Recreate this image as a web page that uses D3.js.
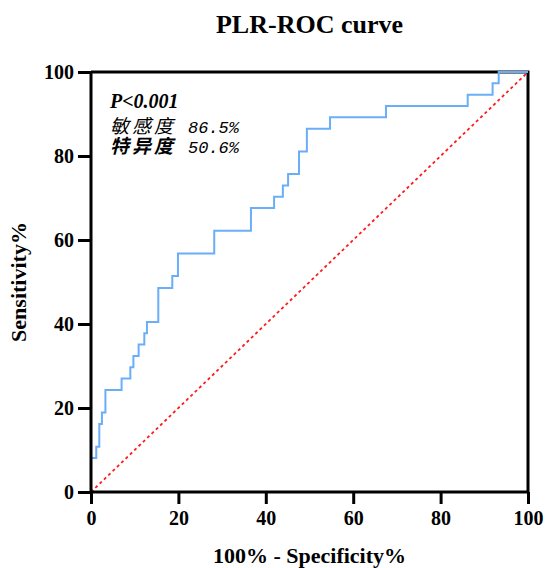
<!DOCTYPE html>
<html>
<head>
<meta charset="utf-8">
<script src="https://cdn.jsdelivr.net/npm/d3@7"></script>
<style>
  html, body { margin: 0; padding: 0; background: #fff; }
  svg { display: block; }
</style>
</head>
<body>
<div id="chart"></div>
<script>
// ---- data ----
const fprValues = [0, 0, 1.2, 1.9, 2.5, 3.3, 7.0, 9.0, 9.7, 10.9, 12.2, 12.8, 15.4, 18.6, 19.9, 28.2, 36.6, 41.9, 43.9, 45.1, 47.6, 49.4, 54.7, 67.5, 86.2, 91.9, 93.3, 100];
const tprValues = [0, 8.1, 10.8, 16.2, 18.9, 24.3, 27.0, 29.7, 32.4, 35.1, 37.8, 40.5, 48.6, 51.4, 56.8, 62.2, 67.6, 70.3, 73.0, 75.7, 81.1, 86.5, 89.2, 91.9, 94.6, 97.3, 100, 100];
const refLine = [0, 100];
const xTicks = [0, 20, 40, 60, 80, 100];
const yTicks = [0, 20, 40, 60, 80, 100];
const titleText = "PLR-ROC curve";
const xLabel = "100% - Specificity%";
const yLabel = "Sensitivity%";
const pText = "P<0.001";
const sensLabel = "敏感度";
const sensValue = "86.5%";
const specLabel = "特异度";
const specValue = "50.6%";

// ---- layout ----
const W = 547, H = 568;
const mLeft = 91, mRight = 528, mTop = 72, mBottom = 492;

const svg = d3.select("#chart").append("svg").attr("width", W).attr("height", H);

const x = d3.scaleLinear().domain([0, 100]).range([mLeft, mRight]);
const y = d3.scaleLinear().domain([0, 100]).range([mBottom, mTop]);

const serif = "'Liberation Serif', 'Times New Roman', serif";

// frame (top & right)
svg.append("path")
  .attr("d", `M${x(0)},${y(100)}H${x(100)}V${y(0)}`)
  .attr("fill", "none").attr("stroke", "#000").attr("stroke-width", 3);

// diagonal reference
svg.append("line")
  .attr("x1", x(refLine[0])).attr("y1", y(refLine[0]))
  .attr("x2", x(refLine[1])).attr("y2", y(refLine[1]))
  .attr("stroke", "#ff1a1a").attr("stroke-width", 1.8)
  .attr("stroke-dasharray", "3,3");

// ROC curve
const pts = fprValues.map((f, i) => [f, tprValues[i]]);
const line = d3.line().x(d => x(d[0])).y(d => y(d[1])).curve(d3.curveStepAfter);
svg.append("path")
  .datum(pts)
  .attr("d", line)
  .attr("fill", "none")
  .attr("stroke", "#6aaef8")
  .attr("stroke-width", 2);

// axes
const xAxis = d3.axisBottom(x).tickValues(xTicks).tickSize(12).tickPadding(7).tickFormat(d3.format("d"));
const yAxis = d3.axisLeft(y).tickValues(yTicks).tickSize(13).tickPadding(4).tickFormat(d3.format("d"));

const gx = svg.append("g").attr("transform", `translate(0,${mBottom})`).call(xAxis);
const gy = svg.append("g").attr("transform", `translate(${mLeft},0)`).call(yAxis);

[gx, gy].forEach(g => {
  g.select(".domain").attr("stroke", "#000").attr("stroke-width", 3);
  g.selectAll(".tick line").attr("stroke", "#000").attr("stroke-width", 3);
  g.selectAll(".tick text")
    .attr("fill", "#000")
    .style("font-family", serif)
    .style("font-weight", "bold")
    .style("font-size", "20px");
});
gx.select(".domain").attr("d", `M${mLeft},0H${mRight}`);
gy.select(".domain").attr("d", `M0,${mTop}V${mBottom}`);

// title
svg.append("text")
  .attr("x", (mLeft + mRight) / 2).attr("y", 33)
  .attr("text-anchor", "middle")
  .style("font-family", serif).style("font-weight", "bold").style("font-size", "26px")
  .text(titleText);

// x label
svg.append("text")
  .attr("x", (mLeft + mRight) / 2).attr("y", 563)
  .attr("text-anchor", "middle")
  .style("font-family", serif).style("font-weight", "bold").style("font-size", "22px")
  .text(xLabel);

// y label
svg.append("text")
  .attr("transform", `translate(26,${(mTop + mBottom) / 2}) rotate(-90)`)
  .attr("text-anchor", "middle")
  .style("font-family", serif).style("font-weight", "bold").style("font-size", "22px")
  .text(yLabel);

// annotations (one text block, three lines)
const ann = svg.append("text").attr("x", 110).attr("y", 108);
ann.append("tspan")
  .attr("x", 110)
  .style("font-family", serif).style("font-weight", "bold").style("font-style", "italic").style("font-size", "20px")
  .text(pText);

function annotRow(dy, label, value, bold) {
  ann.append("tspan")
    .attr("x", 110).attr("dy", dy)
    .style("font-family", "'Noto Sans CJK SC', sans-serif")
    .style("font-style", "italic")
    .style("font-size", "19px")
    .style("font-weight", bold ? "bold" : "normal")
    .style("letter-spacing", "3px")
    .text(label);
  ann.append("tspan")
    .attr("dx", 12)
    .style("font-family", "'Liberation Mono', monospace")
    .style("font-style", "italic")
    .style("font-size", "17px")
    .text(value);
}
annotRow(25, sensLabel, sensValue, false);
annotRow(20, specLabel, specValue, true);
</script>
</body>
</html>
